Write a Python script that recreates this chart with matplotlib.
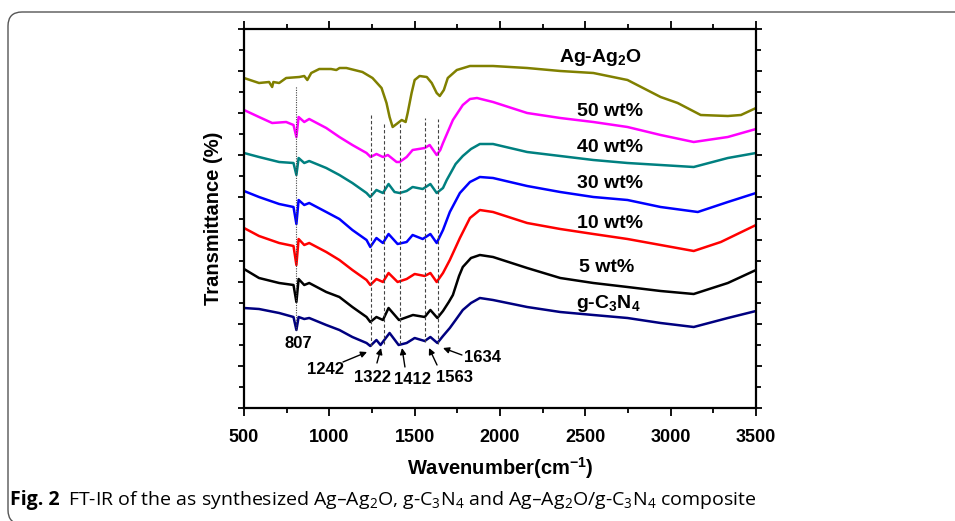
import matplotlib
matplotlib.use("Agg")
import matplotlib.pyplot as plt
from matplotlib.patches import FancyBboxPatch
from matplotlib.ticker import MultipleLocator

plt.rcParams['font.family'] = ['Liberation Sans', 'DejaVu Sans']
plt.rcParams['font.weight'] = 'bold'

# ---------------- data (wavenumber cm^-1, transmittance a.u.) ----------------
wn_ag = [500, 588, 647, 665, 672, 706, 747, 824, 853, 871, 894, 941, 1010, 1041, 1060, 1100,
         1194, 1253, 1306, 1335, 1353, 1371, 1394, 1424, 1447, 1459, 1482, 1500, 1529, 1571,
         1600, 1629, 1647, 1671, 1694, 1747, 1824, 1900, 1959, 2159, 2353, 2547, 2747, 2941,
         3041, 3176, 3335, 3412, 3500]
t_ag = [330, 325, 326, 321, 326, 325, 330, 331, 332, 328, 335, 339, 339, 338, 340, 340,
        336, 330, 320, 305, 291, 281, 284, 288, 286, 295, 315, 328, 332, 331,
        325, 315, 312, 318, 330, 338, 342, 342, 342, 340, 337, 335, 328, 311,
        305, 293, 292, 293, 300]

wn_50 = [500, 588, 665, 747, 790, 807, 820, 853, 882, 982, 1059, 1135, 1218, 1242, 1276, 1314,
         1343, 1394, 1412, 1453, 1488, 1559, 1588, 1629, 1650, 1666, 1724, 1782, 1824, 1865,
         1959, 2159, 2353, 2547, 2747, 2941, 3135, 3335, 3500]
t_50 = [298, 291, 285, 286, 283, 271, 291, 286, 289, 280, 271, 263, 255, 251, 254, 251,
        253, 246, 246, 251, 258, 260, 263, 253, 258, 265, 288, 303, 309, 310,
        306, 295, 290, 286, 281, 273, 266, 271, 279]

wn_40 = [500, 588, 706, 790, 807, 820, 853, 882, 982, 1059, 1135, 1218, 1240, 1276, 1314, 1347,
         1382, 1412, 1453, 1488, 1547, 1592, 1629, 1666, 1688, 1740, 1782, 1830, 1882, 1959,
         2159, 2353, 2547, 2747, 2941, 3135, 3335, 3500]
t_40 = [255, 251, 246, 245, 233, 250, 245, 247, 240, 233, 225, 215, 211, 218, 215, 224,
        216, 215, 217, 221, 219, 224, 215, 220, 228, 244, 252, 259, 264, 264,
        256, 252, 248, 245, 243, 241, 250, 255]

wn_30 = [500, 588, 706, 790, 807, 820, 853, 882, 982, 1059, 1135, 1218, 1240, 1276, 1314, 1347,
         1400, 1453, 1488, 1547, 1592, 1629, 1666, 1706, 1765, 1824, 1882, 1959, 2159, 2353,
         2547, 2747, 2941, 3159, 3335, 3500]
t_30 = [217, 211, 204, 201, 184, 208, 203, 205, 196, 189, 178, 168, 161, 170, 165, 174,
        164, 166, 173, 169, 174, 165, 178, 196, 215, 226, 231, 230, 222, 216,
        211, 208, 201, 196, 206, 215]

wn_10 = [500, 588, 706, 790, 807, 820, 853, 882, 982, 1059, 1135, 1218, 1240, 1276, 1314, 1347,
         1400, 1453, 1500, 1559, 1592, 1629, 1666, 1706, 1765, 1824, 1882, 1959, 2159, 2353,
         2547, 2747, 2941, 3135, 3294, 3500]
t_10 = [180, 172, 165, 162, 143, 169, 163, 165, 156, 148, 138, 128, 123, 129, 126, 135,
        126, 129, 134, 132, 135, 126, 135, 148, 170, 190, 198, 196, 185, 179,
        174, 169, 163, 157, 166, 183]

wn_5 = [500, 588, 706, 790, 807, 820, 853, 882, 982, 1059, 1135, 1218, 1240, 1276, 1314, 1347,
        1408, 1490, 1559, 1592, 1633, 1666, 1700, 1724, 1760, 1782, 1830, 1882, 1959, 2159,
        2353, 2547, 2747, 2941, 3135, 3335, 3500]
t_5 = [139, 130, 125, 123, 106, 129, 123, 125, 116, 111, 101, 91, 86, 91, 88, 100,
       88, 93, 91, 98, 90, 97, 106, 113, 132, 141, 150, 153, 151, 140,
       130, 125, 121, 117, 114, 125, 138]

wn_cn = [500, 588, 706, 790, 807, 820, 853, 882, 982, 1059, 1135, 1218, 1240, 1276, 1300, 1353,
         1406, 1453, 1500, 1559, 1592, 1633, 1666, 1706, 1740, 1782, 1830, 1882, 1959, 2159,
         2353, 2547, 2747, 2941, 3135, 3335, 3500]
t_cn = [100, 99, 95, 91, 78, 91, 89, 90, 83, 78, 71, 65, 62, 68, 63, 75,
        63, 65, 70, 67, 71, 65, 72, 80, 88, 98, 105, 110, 108, 101,
        96, 93, 90, 85, 81, 90, 97]

series = [
    (wn_ag, t_ag, '#808000', 'Ag-Ag$\\mathregular{_2}$O', 2586, 350),
    (wn_50, t_50, '#FF00FF', '50 wt%', 2645, 296),
    (wn_40, t_40, '#008080', '40 wt%', 2645, 261),
    (wn_30, t_30, '#0000FF', '30 wt%', 2645, 225),
    (wn_10, t_10, '#FF0000', '10 wt%', 2645, 185),
    (wn_5, t_5, '#000000', '5 wt%', 2627, 140),
    (wn_cn, t_cn, '#000080', 'g-C$\\mathregular{_3}$N$\\mathregular{_4}$', 2633, 105),
]

# marked bands: wavenumber, top of guide, bottom of guide
band_wn = [1242, 1322, 1412, 1563, 1634]
band_top = [293, 285, 285, 290, 289]
band_bot = [62, 64, 64, 66, 64]
ref_wn, ref_top, ref_bot = 807, 322, 78

# annotations: label, label pos, arrow tail, arrow tip
ann_labels = ['1242', '1322', '1412', '1563', '1634']
ann_text = [(975, 39), (1250, 30), (1490, 28), (1736, 30), (1900, 51)]
ann_tail = [(1080, 46), (1279, 45), (1443, 41), (1631, 43), (1777, 53)]
ann_tip = [(1221, 56), (1303, 60), (1426, 60), (1584, 60), (1666, 60)]

# ---------------- figure ----------------
W, H = 955, 521
fig = plt.figure(figsize=(W / 100, H / 100), dpi=100)

bg = fig.add_axes([0, 0, 1, 1], zorder=-5)
bg.set_xlim(0, W)
bg.set_ylim(H, 0)
bg.axis('off')
bg.add_patch(FancyBboxPatch((8, 12), 1000, 512, boxstyle="round,pad=0,rounding_size=14",
                            fc='white', ec='#555555', lw=1.0))
bg.text(10, 500, 'Fig. 2', family='Open Sans', fontweight='bold', fontsize=14, va='center', ha='left')
bg.text(68, 500, 'FT-IR of the as synthesized Ag\u2013Ag$\\mathregular{_2}$O, g-C$\\mathregular{_3}$N$\\mathregular{_4}$ '
        'and Ag\u2013Ag$\\mathregular{_2}$O/g-C$\\mathregular{_3}$N$\\mathregular{_4}$ composite',
        family='Open Sans', fontweight='normal', fontsize=14, va='center', ha='left')

ax = fig.add_axes([244 / W, (H - 408) / H, 512 / W, 379 / H])
for wn, t, c, lab, lx, ly in series:
    ax.plot(wn, t, color=c, lw=1.8, solid_joinstyle='round')
    ax.text(lx, ly, lab, ha='center', va='center', fontsize=14, fontweight='bold')

ax.vlines(band_wn, band_bot, band_top, colors='#444444', linestyles=(0, (3, 2)), lw=0.8)
ax.vlines([ref_wn], [ref_bot], [ref_top], colors='#444444', linestyles=(0, (1, 1.2)), lw=0.8)

ax.text(816, 65, '807', ha='center', va='center', fontsize=12, fontweight='bold')
for lab, tp, tl, tip in zip(ann_labels, ann_text, ann_tail, ann_tip):
    ax.text(tp[0], tp[1], lab, ha='center', va='center', fontsize=12, fontweight='bold')
    ax.annotate('', xy=tip, xytext=tl,
                arrowprops=dict(arrowstyle='-|>', color='black', lw=1.0, mutation_scale=9,
                                shrinkA=0, shrinkB=0))

ax.set_xlim(500, 3500)
ax.set_ylim(0, 379)
ax.xaxis.set_major_locator(MultipleLocator(500))
ax.xaxis.set_minor_locator(MultipleLocator(250))
ax.yaxis.set_major_locator(MultipleLocator(379 / 18 * 2))
ax.yaxis.set_minor_locator(MultipleLocator(379 / 18))
ax.tick_params(which='both', direction='out', top=True, right=True, width=1.3)
ax.tick_params(which='major', length=6)
ax.tick_params(which='minor', length=3.5)
ax.tick_params(axis='y', which='major', length=4.5)
ax.tick_params(axis='y', labelleft=False)
ax.tick_params(axis='x', labelsize=13, pad=9)
for lbl in ax.get_xticklabels():
    lbl.set_fontweight('bold')
for s in ax.spines.values():
    s.set_linewidth(1.6)

ax.set_xlabel('Wavenumber(cm$\\mathregular{^{-1}}$)', fontsize=14.5, fontweight='bold', labelpad=7)
ax.set_ylabel('Transmittance (%)', fontsize=14.5, fontweight='bold', labelpad=8)

fig.savefig('out.png', dpi=100)
